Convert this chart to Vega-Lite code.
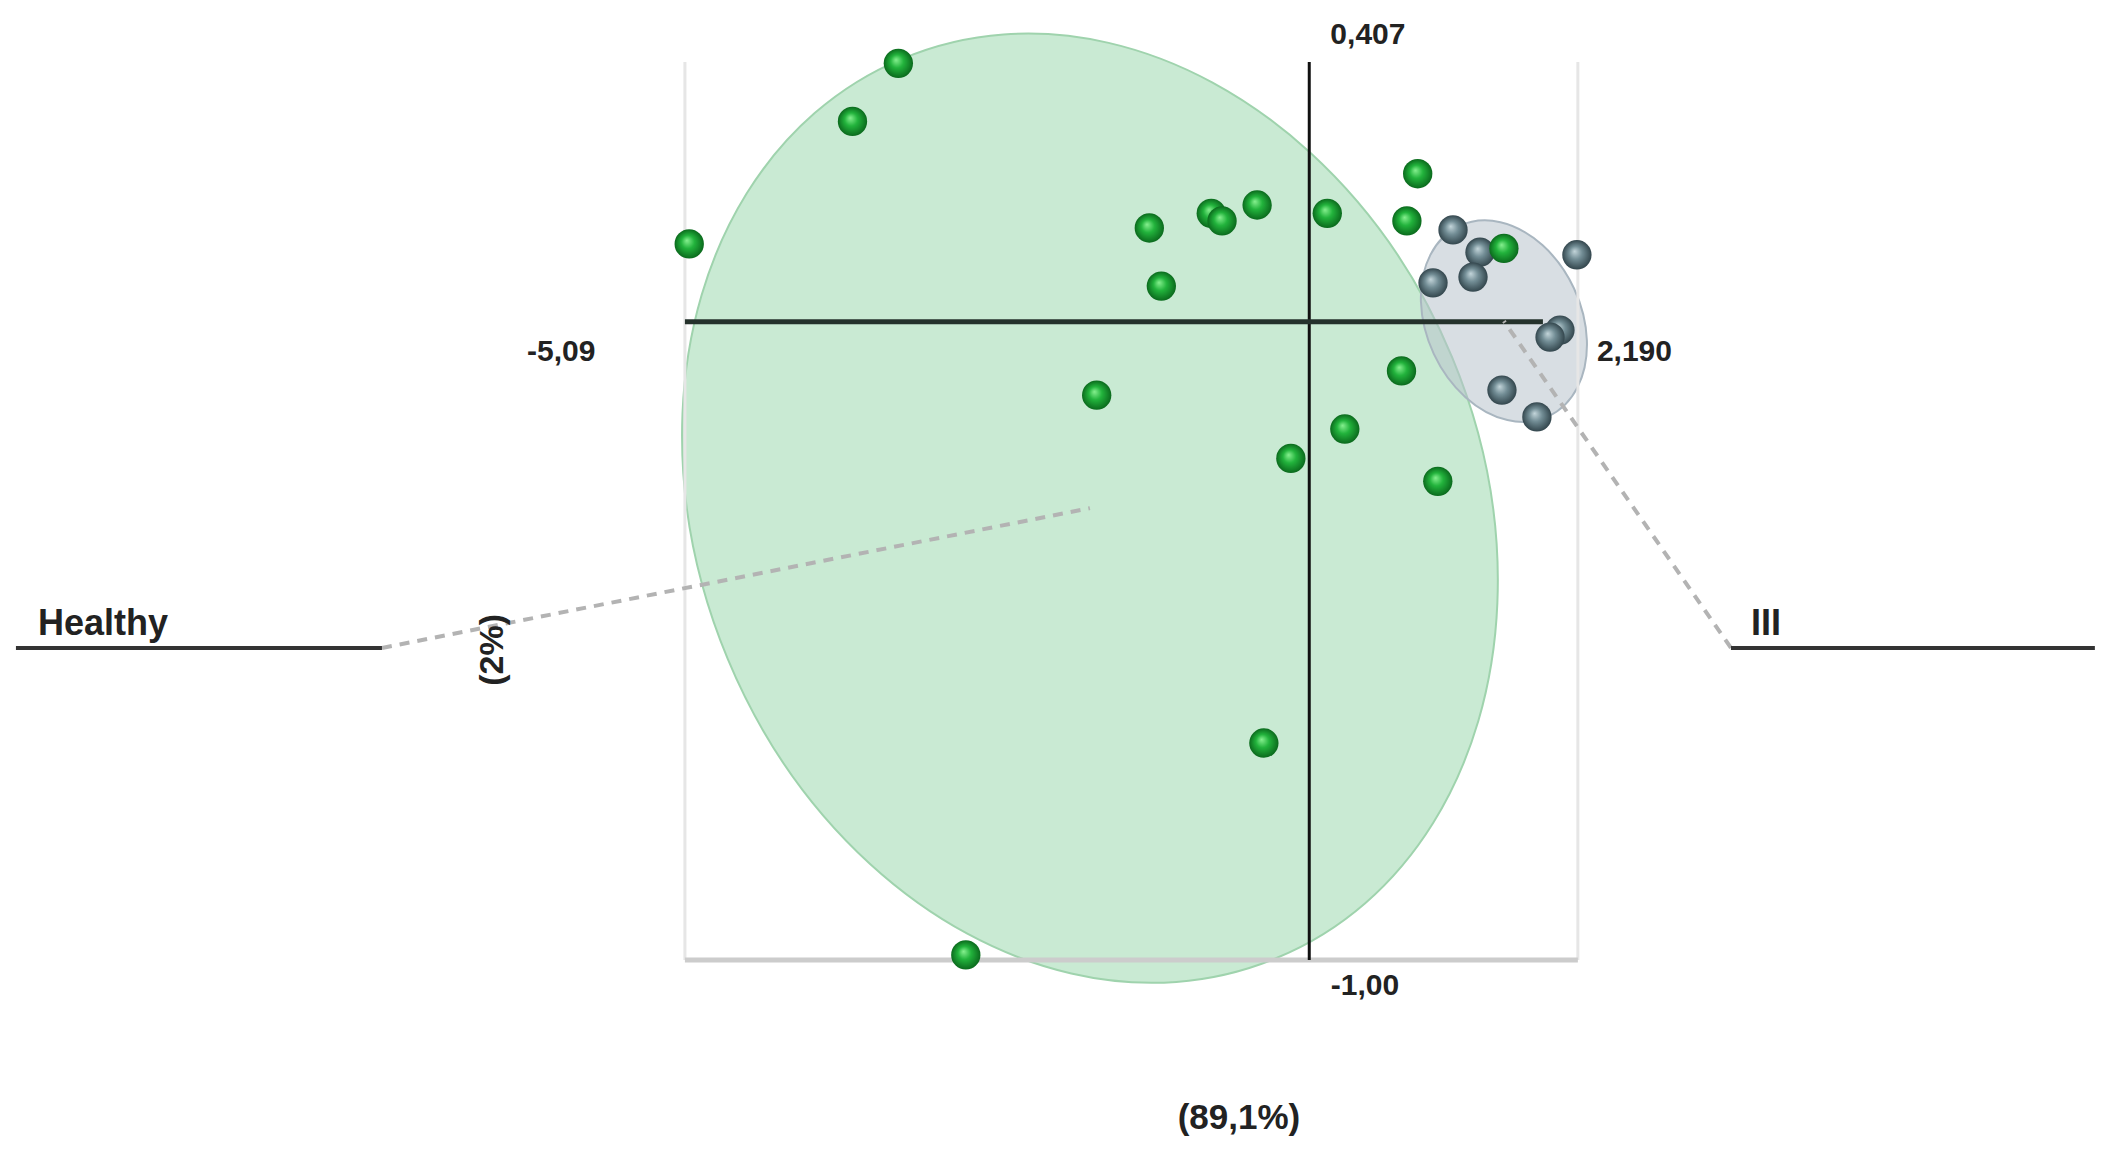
{
  "$schema": "https://vega.github.io/schema/vega-lite/v6.json",
  "width": 2115,
  "height": 1158,
  "autosize": {"type": "none"},
  "padding": 0,
  "background": "white",
  "config": {"view": {"stroke": null}},
  "datasets": {
    "green": [
      {"x": -3.350, "y": 0.405}, {"x": -3.724, "y": 0.314}, {"x": -5.055, "y": 0.122},
      {"x": -1.304, "y": 0.147}, {"x": -0.799, "y": 0.170}, {"x": -0.711, "y": 0.158},
      {"x": -0.425, "y": 0.183}, {"x": 0.147, "y": 0.170}, {"x": 0.884, "y": 0.232},
      {"x": 0.796, "y": 0.158}, {"x": 1.587, "y": 0.115}, {"x": -1.206, "y": 0.056},
      {"x": 0.752, "y": -0.077}, {"x": -1.733, "y": -0.115}, {"x": 0.290, "y": -0.168},
      {"x": -0.150, "y": -0.214}, {"x": 1.048, "y": -0.250}, {"x": -0.370, "y": -0.660},
      {"x": -2.800, "y": -0.992}
    ],
    "gray": [
      {"x": 1.172, "y": 0.144}, {"x": 1.392, "y": 0.109}, {"x": 1.335, "y": 0.070},
      {"x": 1.009, "y": 0.061}, {"x": 2.182, "y": 0.105}, {"x": 2.044, "y": -0.013},
      {"x": 1.963, "y": -0.024}, {"x": 1.571, "y": -0.107}, {"x": 1.856, "y": -0.149}
    ],
    "greenEllipse": [{"group": "Healthy", "x": -1.788, "y": -0.292}],
    "grayEllipse": [{"group": "III", "x": 1.587, "y": 0.001}],
    "frame": [
      {"x": -5.09, "y": 0.407, "x2": -5.09, "y2": -1.0},
      {"x": 2.19, "y": 0.407, "x2": 2.19, "y2": -1.0}
    ],
    "frameBottom": [{"x": -5.09, "y": -1.0, "x2": 2.19, "y2": -1.0}],
    "vaxis": [{"x": 0, "y": 0.407, "x2": 0, "y2": -1.0}],
    "haxis": [{"x": -5.09, "y": 0, "x2": 1.905, "y2": 0}],
    "dashed": [
      {"x": -7.560, "y": -0.511, "x2": -1.788, "y2": -0.292},
      {"x": 3.438, "y": -0.511, "x2": 1.587, "y2": 0.001}
    ],
    "solid": [
      {"x": -10.544, "y": -0.511, "x2": -7.560, "y2": -0.511},
      {"x": 3.438, "y": -0.511, "x2": 6.405, "y2": -0.511}
    ],
    "numbers": [
      {"label": "0,407", "x": 0.478, "y": 0.449},
      {"label": "-5,09", "x": -6.098, "y": -0.047},
      {"label": "2,190", "x": 2.651, "y": -0.048},
      {"label": "-1,00", "x": 0.454, "y": -1.041}
    ],
    "groups": [
      {"label": "Healthy", "x": -10.364, "y": -0.491},
      {"label": "III", "x": 3.601, "y": -0.491}
    ],
    "xtitle": [{"label": "(89,1%)", "x": -0.573, "y": -1.247}],
    "ytitle": [{"label": "(2%)", "x": -6.655, "y": -0.514}]
  },
  "encoding": {
    "x": {"field": "x", "type": "quantitative", "axis": null, "scale": {"domain": [-10.674, 6.569], "nice": false, "zero": false}},
    "y": {"field": "y", "type": "quantitative", "axis": null, "scale": {"domain": [-1.3102, 0.5042], "nice": false, "zero": false}}
  },
  "layer": [
    {
      "data": {"name": "greenEllipse"},
      "mark": {"type": "point", "filled": true, "shape": "M -0.3843 -0.9232 A 1 0.8025 67.4 1 1 0.3843 0.9232 A 1 0.8025 67.4 1 1 -0.3843 -0.9232 Z", "size": 948676, "fill": "#a5dcb5", "fillOpacity": 0.6, "stroke": "#9fd3ad", "strokeWidth": 2, "strokeOpacity": 1, "opacity": 1},
      "encoding": {}
    },
    {
      "data": {"name": "grayEllipse"},
      "mark": {"type": "point", "filled": true, "shape": "M -0.4226 -0.9063 A 1 0.733 65 1 1 0.4226 0.9063 A 1 0.733 65 1 1 -0.4226 -0.9063 Z", "size": 44100, "fill": "#b8c2cc", "fillOpacity": 0.55, "stroke": "#a9b6c0", "strokeWidth": 2, "strokeOpacity": 1, "opacity": 1},
      "encoding": {}
    },
    {
      "data": {"name": "frame"},
      "mark": {"type": "rule", "color": "#e6e6e6", "strokeWidth": 3},
      "encoding": {"x2": {"field": "x2"}, "y2": {"field": "y2"}}
    },
    {
      "data": {"name": "frameBottom"},
      "mark": {"type": "rule", "color": "#cccccc", "strokeWidth": 5},
      "encoding": {"x2": {"field": "x2"}, "y2": {"field": "y2"}}
    },
    {
      "data": {"name": "vaxis"},
      "mark": {"type": "rule", "color": "#111111", "strokeWidth": 3},
      "encoding": {"x2": {"field": "x2"}, "y2": {"field": "y2"}}
    },
    {
      "data": {"name": "haxis"},
      "mark": {"type": "rule", "color": "#25322c", "strokeWidth": 5},
      "encoding": {"x2": {"field": "x2"}, "y2": {"field": "y2"}}
    },
    {
      "data": {"name": "dashed"},
      "mark": {"type": "rule", "color": "#b3b3b3", "strokeWidth": 4, "strokeDash": [10, 8]},
      "encoding": {"x2": {"field": "x2"}, "y2": {"field": "y2"}}
    },
    {
      "data": {"name": "solid"},
      "mark": {"type": "rule", "color": "#333333", "strokeWidth": 4},
      "encoding": {"x2": {"field": "x2"}, "y2": {"field": "y2"}}
    },
    {
      "data": {"name": "gray"},
      "mark": {"type": "point", "shape": "circle", "filled": true, "size": 860, "opacity": 1, "strokeWidth": 0,
        "fill": {"gradient": "radial", "x1": 0.42, "y1": 0.38, "r1": 0, "x2": 0.5, "y2": 0.5, "r2": 0.5,
          "stops": [{"offset": 0, "color": "#c3d5da"}, {"offset": 0.45, "color": "#728d95"}, {"offset": 1, "color": "#33464d"}]}},
      "encoding": {}
    },
    {
      "data": {"name": "green"},
      "mark": {"type": "point", "shape": "circle", "filled": true, "size": 860, "opacity": 1, "strokeWidth": 0,
        "fill": {"gradient": "radial", "x1": 0.42, "y1": 0.38, "r1": 0, "x2": 0.5, "y2": 0.5, "r2": 0.5,
          "stops": [{"offset": 0, "color": "#86f08f"}, {"offset": 0.45, "color": "#22b33c"}, {"offset": 1, "color": "#0b6a1d"}]}},
      "encoding": {}
    },
    {
      "data": {"name": "numbers"},
      "mark": {"type": "text", "font": "Liberation Sans", "fontWeight": "bold", "fontSize": 30, "color": "#222222", "align": "center", "baseline": "middle"},
      "encoding": {"text": {"field": "label"}}
    },
    {
      "data": {"name": "groups"},
      "mark": {"type": "text", "font": "Liberation Sans", "fontWeight": "bold", "fontSize": 36, "color": "#222222", "align": "left", "baseline": "alphabetic"},
      "encoding": {"text": {"field": "label"}}
    },
    {
      "data": {"name": "xtitle"},
      "mark": {"type": "text", "font": "Liberation Sans", "fontWeight": "bold", "fontSize": 35, "color": "#222222", "align": "center", "baseline": "middle"},
      "encoding": {"text": {"field": "label"}}
    },
    {
      "data": {"name": "ytitle"},
      "mark": {"type": "text", "font": "Liberation Sans", "fontWeight": "bold", "fontSize": 34, "color": "#222222", "align": "center", "baseline": "middle", "angle": 270},
      "encoding": {"text": {"field": "label"}}
    }
  ]
}
